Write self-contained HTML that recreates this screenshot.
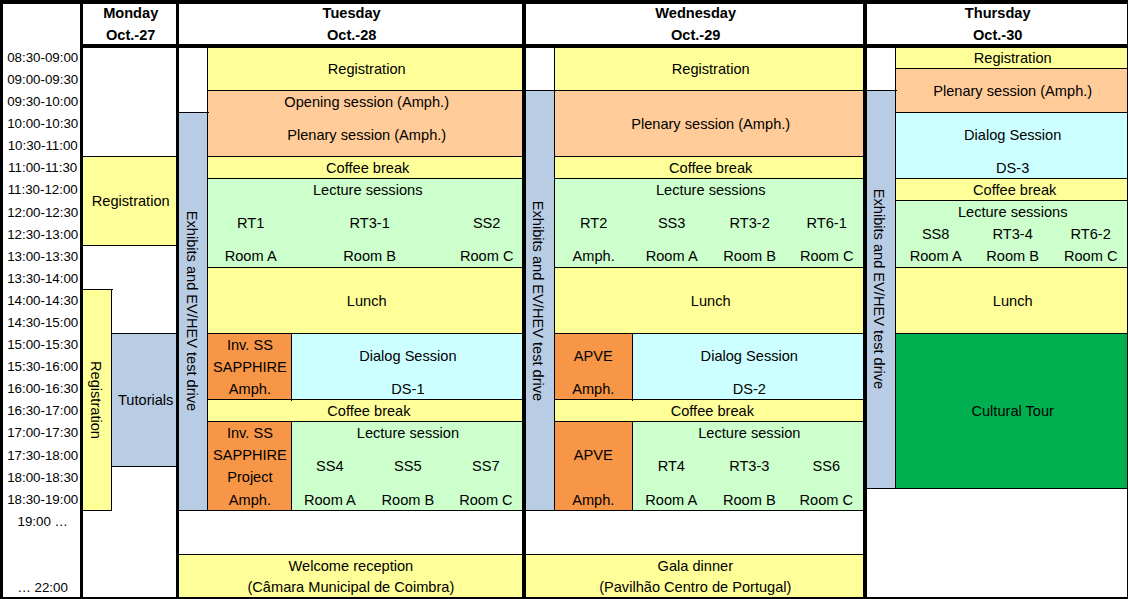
<!DOCTYPE html>
<html><head><meta charset="utf-8"><title>Programme</title>
<style>
html,body{margin:0;padding:0;background:#fff}
body{width:1128px;height:599px;position:relative;overflow:hidden;font-family:"Liberation Sans",sans-serif;color:#000}
.b,.l,.t,.v{position:absolute}
.l{background:#000}
.t{width:300px;height:20px;line-height:20px;text-align:center;white-space:nowrap}
.v{width:300px;height:20px;line-height:20px;text-align:center;white-space:nowrap;transform:rotate(90deg);transform-origin:50% 50%}
</style></head><body>
<div class="b" style="left:83px;top:157px;width:93px;height:88px;background:#FFFF99"></div>
<div class="b" style="left:83px;top:290px;width:28px;height:220px;background:#FFFF99"></div>
<div class="b" style="left:112px;top:334px;width:64px;height:132px;background:#B8CCE4"></div>
<div class="b" style="left:179px;top:113px;width:28px;height:397px;background:#B8CCE4"></div>
<div class="b" style="left:208px;top:48px;width:314px;height:42px;background:#FFFF99"></div>
<div class="b" style="left:208px;top:91px;width:314px;height:65px;background:#FFCC99"></div>
<div class="b" style="left:208px;top:157px;width:314px;height:21px;background:#FFFF99"></div>
<div class="b" style="left:208px;top:179px;width:314px;height:88px;background:#CCFFCC"></div>
<div class="b" style="left:208px;top:268px;width:314px;height:65px;background:#FFFF99"></div>
<div class="b" style="left:208px;top:334px;width:83px;height:65px;background:#F79646"></div>
<div class="b" style="left:292px;top:334px;width:230px;height:65px;background:#CCFFFF"></div>
<div class="b" style="left:208px;top:400px;width:314px;height:21px;background:#FFFF99"></div>
<div class="b" style="left:208px;top:422px;width:83px;height:88px;background:#F79646"></div>
<div class="b" style="left:292px;top:422px;width:230px;height:88px;background:#CCFFCC"></div>
<div class="b" style="left:555px;top:48px;width:308px;height:42px;background:#FFFF99"></div>
<div class="b" style="left:555px;top:91px;width:308px;height:65px;background:#FFCC99"></div>
<div class="b" style="left:555px;top:157px;width:308px;height:21px;background:#FFFF99"></div>
<div class="b" style="left:555px;top:179px;width:308px;height:88px;background:#CCFFCC"></div>
<div class="b" style="left:555px;top:268px;width:308px;height:65px;background:#FFFF99"></div>
<div class="b" style="left:555px;top:334px;width:77px;height:65px;background:#F79646"></div>
<div class="b" style="left:633px;top:334px;width:230px;height:65px;background:#CCFFFF"></div>
<div class="b" style="left:555px;top:400px;width:308px;height:21px;background:#FFFF99"></div>
<div class="b" style="left:555px;top:422px;width:77px;height:88px;background:#F79646"></div>
<div class="b" style="left:633px;top:422px;width:230px;height:88px;background:#CCFFCC"></div>
<div class="b" style="left:179px;top:555px;width:343px;height:42px;background:#FFFF99"></div>
<div class="b" style="left:526px;top:91px;width:28px;height:419px;background:#B8CCE4"></div>
<div class="b" style="left:526px;top:555px;width:337px;height:42px;background:#FFFF99"></div>
<div class="b" style="left:867px;top:91px;width:28px;height:397px;background:#B8CCE4"></div>
<div class="b" style="left:896px;top:48px;width:231px;height:20px;background:#FFFF99"></div>
<div class="b" style="left:896px;top:69px;width:231px;height:43px;background:#FFCC99"></div>
<div class="b" style="left:896px;top:113px;width:231px;height:65px;background:#CCFFFF"></div>
<div class="b" style="left:896px;top:179px;width:231px;height:21px;background:#FFFF99"></div>
<div class="b" style="left:896px;top:201px;width:231px;height:66px;background:#CCFFCC"></div>
<div class="b" style="left:896px;top:268px;width:231px;height:65px;background:#FFFF99"></div>
<div class="b" style="left:896px;top:334px;width:231px;height:154px;background:#00B050"></div>
<div class="l" style="left:83px;top:156px;width:93px;height:1px"></div>
<div class="l" style="left:83px;top:245px;width:93px;height:1px"></div>
<div class="l" style="left:83px;top:289px;width:30px;height:1px"></div>
<div class="l" style="left:111px;top:289px;width:1px;height:222px"></div>
<div class="l" style="left:83px;top:510px;width:29px;height:1px"></div>
<div class="l" style="left:111px;top:333px;width:65px;height:1px"></div>
<div class="l" style="left:111px;top:466px;width:65px;height:1px"></div>
<div class="l" style="left:207px;top:48px;width:1px;height:463px"></div>
<div class="l" style="left:179px;top:112px;width:30px;height:1px"></div>
<div class="l" style="left:207px;top:90px;width:315px;height:1px"></div>
<div class="l" style="left:207px;top:156px;width:315px;height:1px"></div>
<div class="l" style="left:207px;top:178px;width:315px;height:1px"></div>
<div class="l" style="left:207px;top:267px;width:315px;height:1px"></div>
<div class="l" style="left:207px;top:333px;width:315px;height:1px"></div>
<div class="l" style="left:207px;top:399px;width:315px;height:1px"></div>
<div class="l" style="left:207px;top:421px;width:315px;height:1px"></div>
<div class="l" style="left:291px;top:333px;width:1px;height:68px"></div>
<div class="l" style="left:291px;top:421px;width:1px;height:90px"></div>
<div class="l" style="left:179px;top:510px;width:343px;height:1px"></div>
<div class="l" style="left:179px;top:554px;width:343px;height:1px"></div>
<div class="l" style="left:554px;top:90px;width:309px;height:1px"></div>
<div class="l" style="left:554px;top:156px;width:309px;height:1px"></div>
<div class="l" style="left:554px;top:178px;width:309px;height:1px"></div>
<div class="l" style="left:554px;top:267px;width:309px;height:1px"></div>
<div class="l" style="left:554px;top:333px;width:309px;height:1px"></div>
<div class="l" style="left:554px;top:399px;width:309px;height:1px"></div>
<div class="l" style="left:554px;top:421px;width:309px;height:1px"></div>
<div class="l" style="left:632px;top:333px;width:1px;height:68px"></div>
<div class="l" style="left:632px;top:421px;width:1px;height:90px"></div>
<div class="l" style="left:526px;top:510px;width:337px;height:1px"></div>
<div class="l" style="left:526px;top:554px;width:337px;height:1px"></div>
<div class="l" style="left:554px;top:48px;width:1px;height:463px"></div>
<div class="l" style="left:526px;top:90px;width:30px;height:1px"></div>
<div class="l" style="left:895px;top:48px;width:1px;height:441px"></div>
<div class="l" style="left:867px;top:90px;width:30px;height:1px"></div>
<div class="l" style="left:895px;top:68px;width:232px;height:1px"></div>
<div class="l" style="left:895px;top:112px;width:232px;height:1px"></div>
<div class="l" style="left:895px;top:178px;width:232px;height:1px"></div>
<div class="l" style="left:895px;top:200px;width:232px;height:1px"></div>
<div class="l" style="left:895px;top:267px;width:232px;height:1px"></div>
<div class="l" style="left:895px;top:333px;width:232px;height:1px"></div>
<div class="l" style="left:867px;top:488px;width:260px;height:1px"></div>
<div class="l" style="left:0px;top:0px;width:1128px;height:4px"></div>
<div class="l" style="left:0px;top:597px;width:1128px;height:2px"></div>
<div class="l" style="left:0px;top:0px;width:3px;height:599px"></div>
<div class="l" style="left:1127px;top:0px;width:1px;height:599px"></div>
<div class="l" style="left:80px;top:0px;width:3px;height:599px"></div>
<div class="l" style="left:176px;top:0px;width:3px;height:599px"></div>
<div class="l" style="left:522px;top:0px;width:4px;height:599px"></div>
<div class="l" style="left:863px;top:0px;width:4px;height:599px"></div>
<div class="l" style="left:80px;top:44px;width:1048px;height:4px"></div>
<div class="t" style="left:-107.3px;top:48.38px;font-size:13.33px">08:30-09:00</div>
<div class="t" style="left:-107.3px;top:70.38px;font-size:13.33px">09:00-09:30</div>
<div class="t" style="left:-107.3px;top:92.38px;font-size:13.33px">09:30-10:00</div>
<div class="t" style="left:-107.3px;top:114.38px;font-size:13.33px">10:00-10:30</div>
<div class="t" style="left:-107.3px;top:136.38px;font-size:13.33px">10:30-11:00</div>
<div class="t" style="left:-107.3px;top:158.38px;font-size:13.33px">11:00-11:30</div>
<div class="t" style="left:-107.3px;top:180.38px;font-size:13.33px">11:30-12:00</div>
<div class="t" style="left:-107.3px;top:203.38px;font-size:13.33px">12:00-12:30</div>
<div class="t" style="left:-107.3px;top:225.38px;font-size:13.33px">12:30-13:00</div>
<div class="t" style="left:-107.3px;top:247.38px;font-size:13.33px">13:00-13:30</div>
<div class="t" style="left:-107.3px;top:269.38px;font-size:13.33px">13:30-14:00</div>
<div class="t" style="left:-107.3px;top:291.38px;font-size:13.33px">14:00-14:30</div>
<div class="t" style="left:-107.3px;top:313.38px;font-size:13.33px">14:30-15:00</div>
<div class="t" style="left:-107.3px;top:335.38px;font-size:13.33px">15:00-15:30</div>
<div class="t" style="left:-107.3px;top:357.38px;font-size:13.33px">15:30-16:00</div>
<div class="t" style="left:-107.3px;top:379.38px;font-size:13.33px">16:00-16:30</div>
<div class="t" style="left:-107.3px;top:401.38px;font-size:13.33px">16:30-17:00</div>
<div class="t" style="left:-107.3px;top:423.38px;font-size:13.33px">17:00-17:30</div>
<div class="t" style="left:-107.3px;top:446.38px;font-size:13.33px">17:30-18:00</div>
<div class="t" style="left:-107.3px;top:468.38px;font-size:13.33px">18:00-18:30</div>
<div class="t" style="left:-107.3px;top:490.38px;font-size:13.33px">18:30-19:00</div>
<div class="t" style="left:-107.3px;top:512.38px;font-size:13.33px">19:00 &hellip;</div>
<div class="t" style="left:-107.3px;top:578.38px;font-size:13.33px">&hellip; 22:00</div>
<div class="t" style="left:-19.3px;top:2.94px;font-size:14.6px;font-weight:bold">Monday</div>
<div class="t" style="left:-19.3px;top:24.94px;font-size:14.6px;font-weight:bold">Oct.-27</div>
<div class="t" style="left:201.7px;top:2.94px;font-size:14.6px;font-weight:bold">Tuesday</div>
<div class="t" style="left:201.7px;top:24.94px;font-size:14.6px;font-weight:bold">Oct.-28</div>
<div class="t" style="left:545.7px;top:2.94px;font-size:14.6px;font-weight:bold">Wednesday</div>
<div class="t" style="left:545.7px;top:24.94px;font-size:14.6px;font-weight:bold">Oct.-29</div>
<div class="t" style="left:847.7px;top:2.94px;font-size:14.6px;font-weight:bold">Thursday</div>
<div class="t" style="left:847.7px;top:24.94px;font-size:14.6px;font-weight:bold">Oct.-30</div>
<div class="t" style="left:-19.3px;top:190.94px;font-size:14.6px">Registration</div>
<div class="v" style="left:-54px;top:390px;font-size:14.6px">Registration</div>
<div class="t" style="left:-4.3px;top:389.94px;font-size:14.6px">Tutorials</div>
<div class="v" style="left:42.400000000000006px;top:301px;font-size:14.6px">Exhibits and EV/HEV test drive</div>
<div class="t" style="left:216.7px;top:58.94px;font-size:14.6px">Registration</div>
<div class="t" style="left:216.7px;top:91.94px;font-size:14.6px">Opening session (Amph.)</div>
<div class="t" style="left:216.7px;top:124.94px;font-size:14.6px">Plenary session (Amph.)</div>
<div class="t" style="left:217.7px;top:157.94px;font-size:14.6px">Coffee break</div>
<div class="t" style="left:217.7px;top:179.94px;font-size:14.6px">Lecture sessions</div>
<div class="t" style="left:100.7px;top:212.94px;font-size:14.6px">RT1</div>
<div class="t" style="left:100.7px;top:245.94px;font-size:14.6px">Room A</div>
<div class="t" style="left:219.7px;top:212.94px;font-size:14.6px">RT3-1</div>
<div class="t" style="left:219.7px;top:245.94px;font-size:14.6px">Room B</div>
<div class="t" style="left:336.7px;top:212.94px;font-size:14.6px">SS2</div>
<div class="t" style="left:336.7px;top:245.94px;font-size:14.6px">Room C</div>
<div class="t" style="left:216.7px;top:290.94px;font-size:14.6px">Lunch</div>
<div class="t" style="left:99.89999999999999px;top:334.94px;font-size:14.6px">Inv. SS</div>
<div class="t" style="left:99.89999999999999px;top:356.94px;font-size:14.6px">SAPPHIRE</div>
<div class="t" style="left:99.89999999999999px;top:378.94px;font-size:14.6px">Amph.</div>
<div class="t" style="left:257.9px;top:345.94px;font-size:14.6px">Dialog Session</div>
<div class="t" style="left:257.9px;top:378.94px;font-size:14.6px">DS-1</div>
<div class="t" style="left:218.89999999999998px;top:400.94px;font-size:14.6px">Coffee break</div>
<div class="t" style="left:99.89999999999999px;top:422.94px;font-size:14.6px">Inv. SS</div>
<div class="t" style="left:99.89999999999999px;top:444.94px;font-size:14.6px">SAPPHIRE</div>
<div class="t" style="left:99.89999999999999px;top:466.94px;font-size:14.6px">Project</div>
<div class="t" style="left:99.89999999999999px;top:489.94px;font-size:14.6px">Amph.</div>
<div class="t" style="left:257.9px;top:422.94px;font-size:14.6px">Lecture session</div>
<div class="t" style="left:179.89999999999998px;top:455.94px;font-size:14.6px">SS4</div>
<div class="t" style="left:179.89999999999998px;top:489.94px;font-size:14.6px">Room A</div>
<div class="t" style="left:257.9px;top:455.94px;font-size:14.6px">SS5</div>
<div class="t" style="left:257.9px;top:489.94px;font-size:14.6px">Room B</div>
<div class="t" style="left:335.9px;top:455.94px;font-size:14.6px">SS7</div>
<div class="t" style="left:335.9px;top:489.94px;font-size:14.6px">Room C</div>
<div class="t" style="left:200.89999999999998px;top:555.94px;font-size:14.6px">Welcome reception</div>
<div class="t" style="left:200.89999999999998px;top:576.94px;font-size:14.6px">(C&acirc;mara Municipal de Coimbra)</div>
<div class="v" style="left:388.4px;top:291px;font-size:14.6px">Exhibits and EV/HEV test drive</div>
<div class="t" style="left:560.7px;top:58.94px;font-size:14.6px">Registration</div>
<div class="t" style="left:560.7px;top:113.94px;font-size:14.6px">Plenary session (Amph.)</div>
<div class="t" style="left:560.7px;top:157.94px;font-size:14.6px">Coffee break</div>
<div class="t" style="left:560.7px;top:179.94px;font-size:14.6px">Lecture sessions</div>
<div class="t" style="left:443.7px;top:212.94px;font-size:14.6px">RT2</div>
<div class="t" style="left:443.7px;top:245.94px;font-size:14.6px">Amph.</div>
<div class="t" style="left:521.7px;top:212.94px;font-size:14.6px">SS3</div>
<div class="t" style="left:521.7px;top:245.94px;font-size:14.6px">Room A</div>
<div class="t" style="left:599.7px;top:212.94px;font-size:14.6px">RT3-2</div>
<div class="t" style="left:599.7px;top:245.94px;font-size:14.6px">Room B</div>
<div class="t" style="left:676.7px;top:212.94px;font-size:14.6px">RT6-1</div>
<div class="t" style="left:676.7px;top:245.94px;font-size:14.6px">Room C</div>
<div class="t" style="left:560.7px;top:290.94px;font-size:14.6px">Lunch</div>
<div class="t" style="left:443.3px;top:345.94px;font-size:14.6px">APVE</div>
<div class="t" style="left:443.3px;top:378.94px;font-size:14.6px">Amph.</div>
<div class="t" style="left:599.3000000000001px;top:345.94px;font-size:14.6px">Dialog Session</div>
<div class="t" style="left:599.3000000000001px;top:378.94px;font-size:14.6px">DS-2</div>
<div class="t" style="left:562.3000000000001px;top:400.94px;font-size:14.6px">Coffee break</div>
<div class="t" style="left:443.3px;top:444.94px;font-size:14.6px">APVE</div>
<div class="t" style="left:443.3px;top:489.94px;font-size:14.6px">Amph.</div>
<div class="t" style="left:599.3000000000001px;top:422.94px;font-size:14.6px">Lecture session</div>
<div class="t" style="left:521.3000000000001px;top:455.94px;font-size:14.6px">RT4</div>
<div class="t" style="left:521.3000000000001px;top:489.94px;font-size:14.6px">Room A</div>
<div class="t" style="left:599.3000000000001px;top:455.94px;font-size:14.6px">RT3-3</div>
<div class="t" style="left:599.3000000000001px;top:489.94px;font-size:14.6px">Room B</div>
<div class="t" style="left:676.3000000000001px;top:455.94px;font-size:14.6px">SS6</div>
<div class="t" style="left:676.3000000000001px;top:489.94px;font-size:14.6px">Room C</div>
<div class="t" style="left:545.3000000000001px;top:555.94px;font-size:14.6px">Gala dinner</div>
<div class="t" style="left:545.3000000000001px;top:576.94px;font-size:14.6px">(Pavilh&atilde;o Centro de Portugal)</div>
<div class="v" style="left:729.4px;top:279.4px;font-size:14.6px">Exhibits and EV/HEV test drive</div>
<div class="t" style="left:862.7px;top:47.94px;font-size:14.6px">Registration</div>
<div class="t" style="left:862.7px;top:80.94px;font-size:14.6px">Plenary session (Amph.)</div>
<div class="t" style="left:862.7px;top:124.94px;font-size:14.6px">Dialog Session</div>
<div class="t" style="left:862.7px;top:157.94px;font-size:14.6px">DS-3</div>
<div class="t" style="left:864.7px;top:179.94px;font-size:14.6px">Coffee break</div>
<div class="t" style="left:862.7px;top:201.94px;font-size:14.6px">Lecture sessions</div>
<div class="t" style="left:785.7px;top:223.94px;font-size:14.6px">SS8</div>
<div class="t" style="left:785.7px;top:245.94px;font-size:14.6px">Room A</div>
<div class="t" style="left:862.7px;top:223.94px;font-size:14.6px">RT3-4</div>
<div class="t" style="left:862.7px;top:245.94px;font-size:14.6px">Room B</div>
<div class="t" style="left:940.7px;top:223.94px;font-size:14.6px">RT6-2</div>
<div class="t" style="left:940.7px;top:245.94px;font-size:14.6px">Room C</div>
<div class="t" style="left:862.7px;top:290.94px;font-size:14.6px">Lunch</div>
<div class="t" style="left:862.7px;top:400.94px;font-size:14.6px">Cultural Tour</div>
</body></html>
